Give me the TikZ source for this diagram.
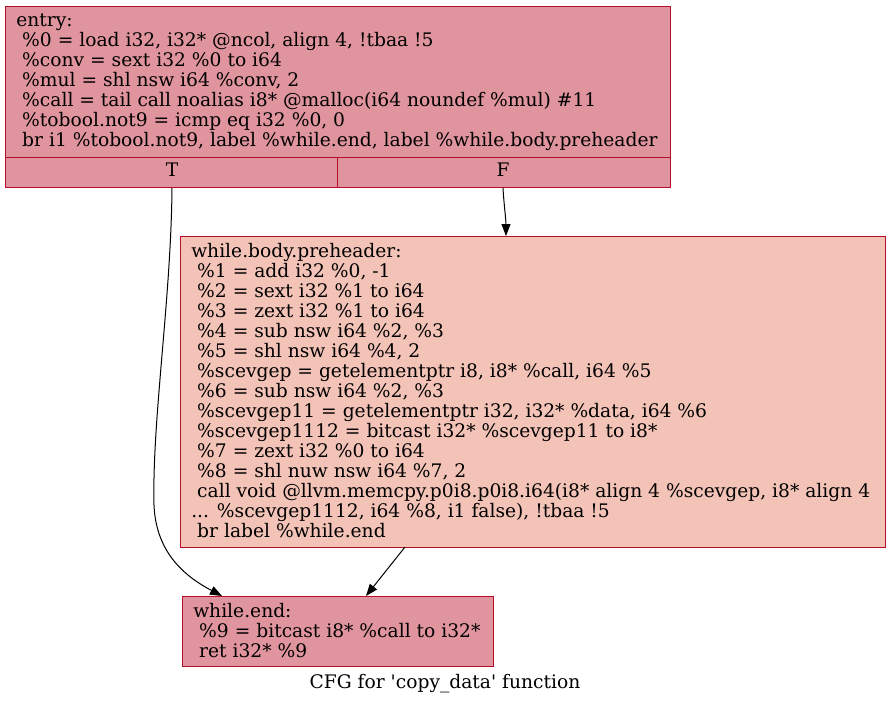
\documentclass[tikz,border=0pt]{standalone}
\usepackage{fontspec}
\setmainfont{DejaVu Serif}[Ligatures=TeXOff]
\usetikzlibrary{arrows.meta,positioning}

\definecolor{hotblock}{HTML}{E0949E}
\definecolor{warmblock}{HTML}{F4C3B7}
\definecolor{blockline}{HTML}{B70D28}
\newcommand{\lpad}{\hspace*{0.32em}}

\tikzset{
  bbox/.style={draw=blockline, line width=0.75pt, rectangle, anchor=north west, inner sep=0pt},
  code/.style={anchor=base west, align=left, inner sep=0pt, font=\fontsize{14}{15}\selectfont},
  flow/.style={-{Triangle[length=9pt,width=6.75pt]}, line width=0.75pt}
}

\begin{document}
\begin{tikzpicture}[x=0.75pt,y=-0.75pt]
    \useasboundingbox (0,0) rectangle (890,704);
    % blocks
    \node[bbox, fill=hotblock, minimum width=498.75pt, minimum height=135.75pt] (entry) at (5,6) {};
    \node[bbox, fill=warmblock, minimum width=528.75pt, minimum height=233.25pt] (pre) at (180,236) {};
    \node[bbox, fill=hotblock, minimum width=233.25pt, minimum height=52.5pt] (wend) at (182,596) {};
    % true / false fields of entry
    \draw[blockline, line width=0.75pt] (5,157) -- (670,157);
    \draw[blockline, line width=0.75pt] (337,157) -- (337,187);
    \node[code, anchor=base] (tlab) at (172,176) {T};
    \node[code, anchor=base] (flab) at (503,176) {F};
    % texts (base anchor sits on the last line)
    \node[code] (entrytxt) at (16,146) {entry:\\
        \lpad\%0 = load i32, i32* @ncol, align 4, !tbaa !5\\
        \lpad\%conv = sext i32 \%0 to i64\\
        \lpad\%mul = shl nsw i64 \%conv, 2\\
        \lpad\%call = tail call noalias i8* @malloc(i64 noundef \%mul) \#11\\
        \lpad\%tobool.not9 = icmp eq i32 \%0, 0\\
        \lpad br i1 \%tobool.not9, label \%while.end, label \%while.body.preheader};
    \node[code] (pretxt) at (191,537) {while.body.preheader:\\
        \lpad\%1 = add i32 \%0, -1\\
        \lpad\%2 = sext i32 \%1 to i64\\
        \lpad\%3 = zext i32 \%1 to i64\\
        \lpad\%4 = sub nsw i64 \%2, \%3\\
        \lpad\%5 = shl nsw i64 \%4, 2\\
        \lpad\%scevgep = getelementptr i8, i8* \%call, i64 \%5\\
        \lpad\%6 = sub nsw i64 \%2, \%3\\
        \lpad\%scevgep11 = getelementptr i32, i32* \%data, i64 \%6\\
        \lpad\%scevgep1112 = bitcast i32* \%scevgep11 to i8*\\
        \lpad\%7 = zext i32 \%0 to i64\\
        \lpad\%8 = shl nuw nsw i64 \%7, 2\\
        \lpad call void @llvm.memcpy.p0i8.p0i8.i64(i8* align 4 \%scevgep, i8* align 4\\
        ... \%scevgep1112, i64 \%8, i1 false), !tbaa !5\\
        \lpad br label \%while.end};
    \node[code] (wendtxt) at (193,657) {while.end:\\
        \lpad\%9 = bitcast i8* \%call to i32*\\
        \lpad ret i32* \%9};
    \node[code, anchor=base] (caption) at (445,688) {CFG for 'copy\_data' function};
    % edges
    \coordinate (tout) at (tlab |- entry.south);
    \coordinate (fout) at (flab |- entry.south);
    \coordinate (tin) at (222,596);
    \coordinate (fin) at (506,236);
    \coordinate (pout) at (405,547);
    \coordinate (pin) at (366,596);
    \draw[flow] (tout) .. controls (171,300) and (152,420) .. (154,505)
        .. controls (156,555) and (188,578) .. (tin);
    \draw[flow] (fout) .. controls (504,205) and (506,220) .. (fin);
    \draw[flow] (pout) -- (pin);
\end{tikzpicture}
\end{document}
